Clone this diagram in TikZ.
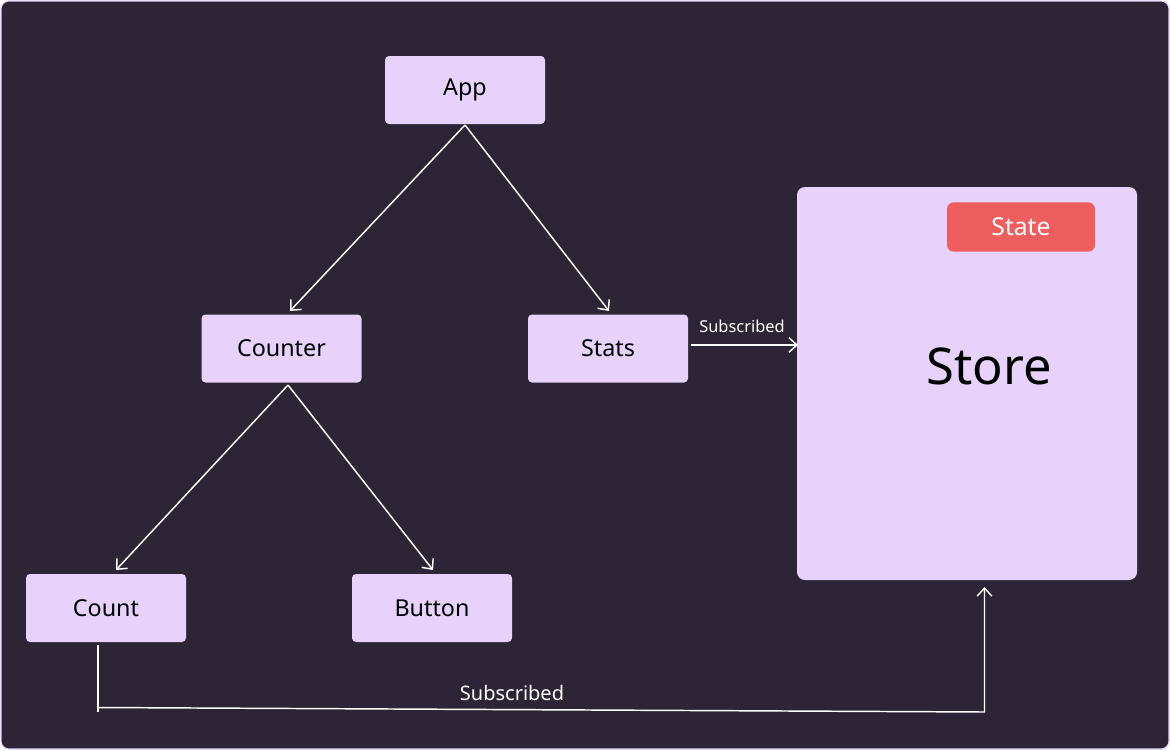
\documentclass[tikz,border=0pt]{standalone}
\usepackage{fontspec}
\setmainfont{Noto Sans}
\usetikzlibrary{arrows.meta}
\definecolor{bg}{HTML}{2D2535}
\definecolor{boxc}{HTML}{E6D2FB}
\definecolor{statec}{HTML}{EF5E5E}
\tikzset{
  comp/.style={fill=boxc, rounded corners=3pt, minimum width=120pt, minimum height=51pt, inner sep=0pt, font=\fontsize{17.5}{20}\selectfont, text=black},
  link/.style={draw=white, line width=1.1pt, -{Straight Barb[length=6pt, width=11pt, line width=1.1pt]}},
  plain/.style={draw=white, line width=1.1pt},
  lbl/.style={text=white, inner sep=0pt}
}
\begin{document}
\begin{tikzpicture}[x=0.75pt, y=-0.75pt]
\useasboundingbox (0,0) rectangle (1170,750);
\draw[fill=bg, draw=boxc, line width=0.8pt, rounded corners=6pt] (1,1) rectangle (1169,749);

\node[comp] (app) at (465,90) {App};
\node[comp] (counter) at (281.5,348.5) {Counter};
\node[comp] (stats) at (608,348.5) {Stats};
\node[comp] (count) at (106,608) {Count};
\node[comp] (button) at (432,608) {Button};

\node[fill=boxc, rounded corners=6pt, minimum width=255pt, minimum height=294.75pt, inner sep=0pt] (store) at (967,383.5) {};
\node[text=black, font=\fontsize{38}{44}\selectfont] (storelbl) at (989,366) {Store};
\node[fill=statec, rounded corners=5pt, minimum width=111pt, minimum height=37pt, inner sep=0pt, text=white, font=\fontsize{18.5}{22}\selectfont] (state) at (1021,227) {State};

\coordinate (appb) at (465,125);
\coordinate (countertop) at (290,311);
\coordinate (statstop) at (609,311);
\coordinate (counterb) at (288,385);
\coordinate (counttop) at (116,570);
\coordinate (buttontop) at (433,570);

\draw[link] (appb) -- (countertop);
\draw[link] (appb) -- (statstop);
\draw[link] (counterb) -- (counttop);
\draw[link] (counterb) -- (buttontop);

\coordinate (statsr) at (691,345);
\coordinate (storel) at (798,345);
\draw[link] (statsr) -- (storel);
\node[lbl, font=\fontsize{12.3}{14}\selectfont] (sub1) at (742,326) {Subscribed};

\coordinate (countb) at (98,645);
\coordinate (c1) at (98,712);
\coordinate (c2) at (98,707.5);
\coordinate (c3) at (984.5,712);
\coordinate (storeb) at (984.5,587);
\draw[plain] (countb) -- (c1);
\draw[link] (c2) -- (c3) -- (storeb);
\node[lbl, font=\fontsize{15}{18}\selectfont] (sub2) at (512,693) {Subscribed};
\end{tikzpicture}
\end{document}
